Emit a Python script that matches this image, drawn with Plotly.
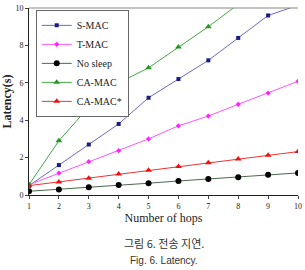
import plotly.graph_objects as go

hops = [1, 2, 3, 4, 5, 6, 7, 8, 9, 10]
smac = [0.5, 1.6, 2.7, 3.8, 5.2, 6.2, 7.2, 8.4, 9.6, 10.15]
tmac = [0.55, 1.17, 1.78, 2.37, 3.0, 3.7, 4.22, 4.85, 5.45, 6.08]
nosleep = [0.2, 0.3, 0.42, 0.53, 0.63, 0.75, 0.85, 0.95, 1.08, 1.18]
camac = [0.55, 2.9, 4.7, 6.0, 6.8, 7.92, 9.0, 10.2, 11.4, 12.6]
camac_star = [0.5, 0.7, 0.9, 1.12, 1.33, 1.52, 1.72, 1.93, 2.12, 2.32]

series = [
    ("S-MAC", smac, "#6a6ac8", "#1a1a80", "square", 4),
    ("T-MAC", tmac, "#ff55ff", "#ff22ff", "diamond", 4),
    ("No sleep", nosleep, "#4a6a4a", "#000000", "circle", 6),
    ("CA-MAC", camac, "#44aa44", "#229922", "triangle-up", 6),
    ("CA-MAC*", camac_star, "#ee3333", "#ee1111", "triangle-up", 6),
]

fig = go.Figure()
for name, ys, lc, mc, sym, ms in series:
    fig.add_trace(go.Scatter(
        x=hops, y=ys, name=name, mode="lines+markers",
        line=dict(color=lc, width=1),
        marker=dict(color=mc, symbol=sym, size=ms),
    ))

serif = "Liberation Serif, Times New Roman, serif"
fig.update_layout(
    width=305, height=270,
    margin=dict(l=28, r=3, t=8, b=75),
    paper_bgcolor="white", plot_bgcolor="white",
    font=dict(family=serif, size=9, color="#222"),
    showlegend=True,
    legend=dict(
        x=0.025, y=0.99, xanchor="left", yanchor="top",
        bgcolor="white", bordercolor="#666", borderwidth=1,
        font=dict(family=serif, size=10, color="#222"),
        itemwidth=30, tracegroupgap=0,
    ),
    xaxis=dict(
        range=[1, 10], tickvals=hops, ticks="outside", ticklen=3,
        showgrid=False, zeroline=False, showline=True, linecolor="#222",
        linewidth=1, tickfont=dict(size=8), ticklabeloverflow="allow",
        title=dict(text="Number of hops", font=dict(family=serif, size=12), standoff=2),
    ),
    yaxis=dict(
        range=[0, 10], tickvals=[0, 2, 4, 6, 8, 10], ticks="outside", ticklen=3,
        showgrid=False, zeroline=False, showline=True, linecolor="#222",
        linewidth=1, tickfont=dict(size=8),
        title=dict(text="<b>Latency(s)</b>", font=dict(family=serif, size=12), standoff=4),
    ),
    shapes=[dict(type="line", xref="paper", yref="paper", x0=0, x1=1, y0=1, y1=1,
                 line=dict(color="#888", width=1))],
    annotations=[
        dict(text="그림 6. 전송 지연.", xref="paper", yref="paper", x=0.5, y=-0.31,
             showarrow=False, font=dict(family="Noto Sans CJK KR", size=11, color="#333")),
        dict(text="Fig. 6. Latency.", xref="paper", yref="paper", x=0.5, y=-0.39,
             showarrow=False, font=dict(family="Liberation Sans, Arial", size=10, color="#333")),
    ],
)
fig.write_html("out.html")
